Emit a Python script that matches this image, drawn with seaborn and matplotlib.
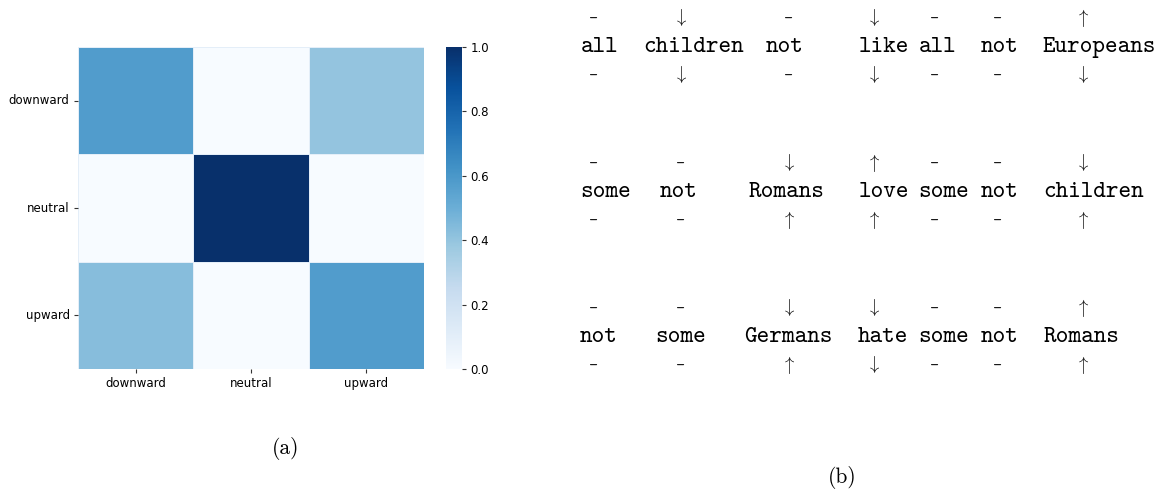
import matplotlib
matplotlib.use("Agg")
import matplotlib.pyplot as plt
import numpy as np
import pandas as pd
import seaborn as sns

# ---- data -------------------------------------------------------------
labels = ["downward", "neutral", "upward"]
row_downward = [0.58, 0.00, 0.40]
row_neutral = [0.00, 1.00, 0.00]
row_upward = [0.43, 0.00, 0.58]

sentences = [
    ["all", "children", "not", "like", "all", "not", "Europeans"],
    ["some", "not", "Romans", "love", "some", "not", "children"],
    ["not", "some", "Germans", "hate", "some", "not", "Romans"],
]
marks_above = [
    ["-", "↓", "-", "↓", "-", "-", "↑"],
    ["-", "-", "↓", "↑", "-", "-", "↓"],
    ["-", "-", "↓", "↓", "-", "-", "↑"],
]
marks_below = [
    ["-", "↓", "-", "↓", "-", "-", "↓"],
    ["-", "-", "↑", "↑", "-", "-", "↑"],
    ["-", "-", "↑", "↓", "-", "-", "↑"],
]

# ---- layout (pixel units of the figure canvas) ------------------------
W, H = 1165, 491
word_centers = [
    [599.5, 693.7, 785.0, 884.0, 938.0, 999.3, 1099.0],
    [606.0, 679.0, 786.7, 884.0, 944.0, 999.3, 1094.0],
    [599.0, 680.3, 788.0, 883.0, 944.0, 999.3, 1081.7],
]
mark_columns = [593, 680, 788, 873, 934, 997, 1082]
row_baseline0 = 52
row_step = 145
above_offset = -29
below_offset = 28

plt.rcParams["mathtext.fontset"] = "cm"

fig = plt.figure(figsize=(W / 100, H / 100), dpi=100)

# ---- (a) heatmap ------------------------------------------------------
matrix = pd.DataFrame([row_downward, row_neutral, row_upward],
                      index=labels, columns=labels)
ax = fig.add_axes([78 / W, 1 - 369 / H, 346 / W, 322 / H])
cax = fig.add_axes([446 / W, 1 - 369 / H, 16 / W, 322 / H])
sns.heatmap(matrix, ax=ax, cbar_ax=cax, cmap="Blues", vmin=0, vmax=1,
            linewidths=0.7, linecolor="#e4eef8")
ax.tick_params(axis="both", labelsize=8.5, length=3, width=0.8,
               color="#333333", pad=3)
ax.set_yticklabels(labels, rotation=0)
ax.set_xticklabels(labels, rotation=0)
cax.tick_params(labelsize=8.5, length=3, width=0.8, color="#333333", pad=3)
cax.set_yticks([0.0, 0.2, 0.4, 0.6, 0.8, 1.0])
for spine in cax.spines.values():
    spine.set_visible(False)

# ---- (b) annotated sentences ------------------------------------------
tx = fig.add_axes([0, 0, 1, 1])
tx.set_xlim(0, W)
tx.set_ylim(H, 0)
tx.axis("off")
tx.patch.set_visible(False)


def draw_mark(x, y, sym):
    if sym == "↓":
        tx.text(x, y, r"$\downarrow$", fontsize=13.5, ha="center",
                va="baseline", color="#1a1a1a")
    elif sym == "↑":
        tx.text(x, y, r"$\uparrow$", fontsize=13.5, ha="center",
                va="baseline", color="#1a1a1a")
    else:
        tx.text(x, y, sym, family="cmtt10", fontsize=12.5, ha="center",
                va="baseline", color="#1a1a1a")


for r, words in enumerate(sentences):
    base = row_baseline0 + r * row_step
    for c, word in enumerate(words):
        tx.text(word_centers[r][c], base, word, family="cmtt10",
                fontsize=17.3, ha="center", va="baseline", color="black")
        draw_mark(mark_columns[c], base + above_offset, marks_above[r][c])
        draw_mark(mark_columns[c], base + below_offset, marks_below[r][c])

tx.text(286, 454.5, "(a)", family="cmr10", fontsize=15.5, ha="center",
        va="baseline", color="black")
tx.text(842.5, 483, "(b)", family="cmr10", fontsize=15.5, ha="center",
        va="baseline", color="black")

fig.savefig("out.png", dpi=100, facecolor="white")
